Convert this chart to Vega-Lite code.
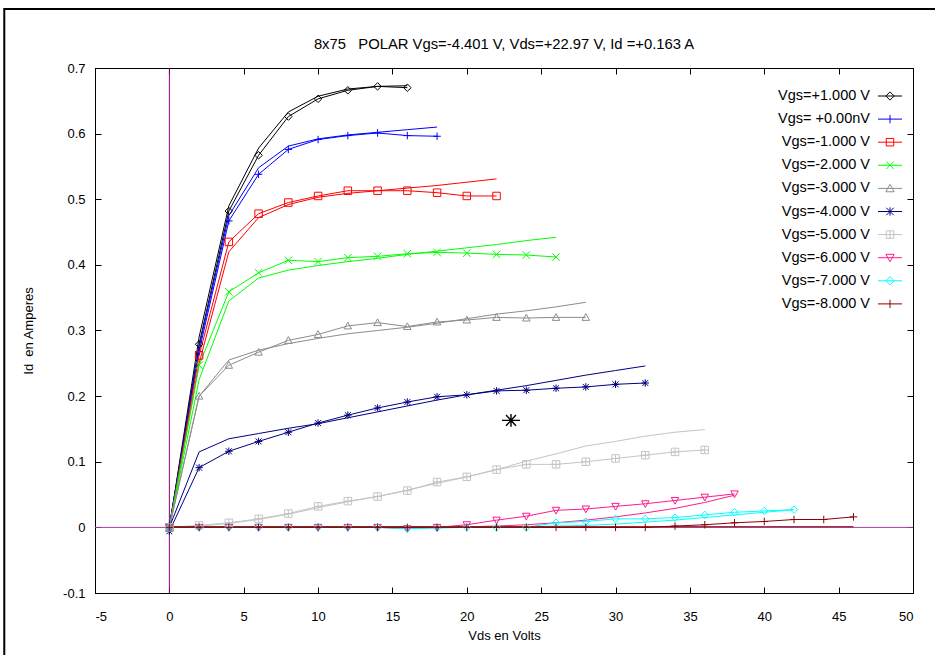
{
"$schema": "https://vega.github.io/schema/vega-lite/v6.json",
"width": 818, "height": 525,
"autosize": {"type": "none"},
"padding": {"left": 95, "top": 68, "right": 22, "bottom": 62},
"background": "white",
"title": {"text": "8x75\u00a0\u00a0 POLAR Vgs=-4.401 V, Vds=+22.97 V, Id =+0.163 A", "fontSize": 14.8, "fontWeight": "normal", "font": "Liberation Sans", "color": "black", "offset": 19, "dy": 63, "anchor": "middle"},
"datasets": {
"iv": [
{"s":"Vgs=+1.000 V","k":"m","x":0,"y":0},{"s":"Vgs=+1.000 V","k":"m","x":2,"y":0.279},{"s":"Vgs=+1.000 V","k":"m","x":4,"y":0.482},{"s":"Vgs=+1.000 V","k":"m","x":6,"y":0.567},{"s":"Vgs=+1.000 V","k":"m","x":8,"y":0.626},{"s":"Vgs=+1.000 V","k":"m","x":10,"y":0.653},{"s":"Vgs=+1.000 V","k":"m","x":12,"y":0.666},{"s":"Vgs=+1.000 V","k":"m","x":14,"y":0.672},{"s":"Vgs=+1.000 V","k":"m","x":16,"y":0.670},
{"s":"Vgs=+1.000 V","k":"f","x":0,"y":0},{"s":"Vgs=+1.000 V","k":"f","x":2,"y":0.29},{"s":"Vgs=+1.000 V","k":"f","x":4,"y":0.49},{"s":"Vgs=+1.000 V","k":"f","x":6,"y":0.578},{"s":"Vgs=+1.000 V","k":"f","x":8,"y":0.633},{"s":"Vgs=+1.000 V","k":"f","x":10,"y":0.657},{"s":"Vgs=+1.000 V","k":"f","x":12,"y":0.668},{"s":"Vgs=+1.000 V","k":"f","x":14,"y":0.672},{"s":"Vgs=+1.000 V","k":"f","x":16,"y":0.673},
{"s":"Vgs= +0.00nV","k":"m","x":0,"y":0.003},{"s":"Vgs= +0.00nV","k":"m","x":2,"y":0.268},{"s":"Vgs= +0.00nV","k":"m","x":4,"y":0.467},{"s":"Vgs= +0.00nV","k":"m","x":6,"y":0.538},{"s":"Vgs= +0.00nV","k":"m","x":8,"y":0.576},{"s":"Vgs= +0.00nV","k":"m","x":10,"y":0.591},{"s":"Vgs= +0.00nV","k":"m","x":12,"y":0.597},{"s":"Vgs= +0.00nV","k":"m","x":14,"y":0.601},{"s":"Vgs= +0.00nV","k":"m","x":16,"y":0.597},{"s":"Vgs= +0.00nV","k":"m","x":18,"y":0.596},
{"s":"Vgs= +0.00nV","k":"f","x":0,"y":0},{"s":"Vgs= +0.00nV","k":"f","x":2,"y":0.275},{"s":"Vgs= +0.00nV","k":"f","x":4,"y":0.475},{"s":"Vgs= +0.00nV","k":"f","x":6,"y":0.548},{"s":"Vgs= +0.00nV","k":"f","x":8,"y":0.581},{"s":"Vgs= +0.00nV","k":"f","x":10,"y":0.592},{"s":"Vgs= +0.00nV","k":"f","x":12,"y":0.598},{"s":"Vgs= +0.00nV","k":"f","x":14,"y":0.602},{"s":"Vgs= +0.00nV","k":"f","x":16,"y":0.606},{"s":"Vgs= +0.00nV","k":"f","x":18,"y":0.610},
{"s":"Vgs=-1.000 V","k":"m","x":0,"y":0},{"s":"Vgs=-1.000 V","k":"m","x":2,"y":0.262},{"s":"Vgs=-1.000 V","k":"m","x":4,"y":0.435},{"s":"Vgs=-1.000 V","k":"m","x":6,"y":0.478},{"s":"Vgs=-1.000 V","k":"m","x":8,"y":0.495},{"s":"Vgs=-1.000 V","k":"m","x":10,"y":0.505},{"s":"Vgs=-1.000 V","k":"m","x":12,"y":0.513},{"s":"Vgs=-1.000 V","k":"m","x":14,"y":0.513},{"s":"Vgs=-1.000 V","k":"m","x":16,"y":0.513},{"s":"Vgs=-1.000 V","k":"m","x":18,"y":0.510},{"s":"Vgs=-1.000 V","k":"m","x":20,"y":0.505},{"s":"Vgs=-1.000 V","k":"m","x":22,"y":0.505},
{"s":"Vgs=-1.000 V","k":"f","x":0,"y":0},{"s":"Vgs=-1.000 V","k":"f","x":2,"y":0.25},{"s":"Vgs=-1.000 V","k":"f","x":4,"y":0.42},{"s":"Vgs=-1.000 V","k":"f","x":6,"y":0.472},{"s":"Vgs=-1.000 V","k":"f","x":8,"y":0.492},{"s":"Vgs=-1.000 V","k":"f","x":10,"y":0.503},{"s":"Vgs=-1.000 V","k":"f","x":12,"y":0.509},{"s":"Vgs=-1.000 V","k":"f","x":14,"y":0.513},{"s":"Vgs=-1.000 V","k":"f","x":16,"y":0.517},{"s":"Vgs=-1.000 V","k":"f","x":18,"y":0.521},{"s":"Vgs=-1.000 V","k":"f","x":20,"y":0.526},{"s":"Vgs=-1.000 V","k":"f","x":22,"y":0.531},
{"s":"Vgs=-2.000 V","k":"m","x":0,"y":0},{"s":"Vgs=-2.000 V","k":"m","x":2,"y":0.247},{"s":"Vgs=-2.000 V","k":"m","x":4,"y":0.359},{"s":"Vgs=-2.000 V","k":"m","x":6,"y":0.388},{"s":"Vgs=-2.000 V","k":"m","x":8,"y":0.407},{"s":"Vgs=-2.000 V","k":"m","x":10,"y":0.405},{"s":"Vgs=-2.000 V","k":"m","x":12,"y":0.411},{"s":"Vgs=-2.000 V","k":"m","x":14,"y":0.413},{"s":"Vgs=-2.000 V","k":"m","x":16,"y":0.417},{"s":"Vgs=-2.000 V","k":"m","x":18,"y":0.419},{"s":"Vgs=-2.000 V","k":"m","x":20,"y":0.418},{"s":"Vgs=-2.000 V","k":"m","x":22,"y":0.416},{"s":"Vgs=-2.000 V","k":"m","x":24,"y":0.415},{"s":"Vgs=-2.000 V","k":"m","x":26,"y":0.412},
{"s":"Vgs=-2.000 V","k":"f","x":0,"y":0},{"s":"Vgs=-2.000 V","k":"f","x":2,"y":0.225},{"s":"Vgs=-2.000 V","k":"f","x":4,"y":0.345},{"s":"Vgs=-2.000 V","k":"f","x":6,"y":0.38},{"s":"Vgs=-2.000 V","k":"f","x":8,"y":0.392},{"s":"Vgs=-2.000 V","k":"f","x":10,"y":0.399},{"s":"Vgs=-2.000 V","k":"f","x":12,"y":0.405},{"s":"Vgs=-2.000 V","k":"f","x":14,"y":0.41},{"s":"Vgs=-2.000 V","k":"f","x":16,"y":0.416},{"s":"Vgs=-2.000 V","k":"f","x":18,"y":0.421},{"s":"Vgs=-2.000 V","k":"f","x":20,"y":0.426},{"s":"Vgs=-2.000 V","k":"f","x":22,"y":0.431},{"s":"Vgs=-2.000 V","k":"f","x":24,"y":0.437},{"s":"Vgs=-2.000 V","k":"f","x":26,"y":0.442},
{"s":"Vgs=-3.000 V","k":"m","x":0,"y":0},{"s":"Vgs=-3.000 V","k":"m","x":2,"y":0.200},{"s":"Vgs=-3.000 V","k":"m","x":4,"y":0.247},{"s":"Vgs=-3.000 V","k":"m","x":6,"y":0.267},{"s":"Vgs=-3.000 V","k":"m","x":8,"y":0.285},{"s":"Vgs=-3.000 V","k":"m","x":10,"y":0.294},{"s":"Vgs=-3.000 V","k":"m","x":12,"y":0.307},{"s":"Vgs=-3.000 V","k":"m","x":14,"y":0.312},{"s":"Vgs=-3.000 V","k":"m","x":16,"y":0.306},{"s":"Vgs=-3.000 V","k":"m","x":18,"y":0.313},{"s":"Vgs=-3.000 V","k":"m","x":20,"y":0.316},{"s":"Vgs=-3.000 V","k":"m","x":22,"y":0.320},{"s":"Vgs=-3.000 V","k":"m","x":24,"y":0.319},{"s":"Vgs=-3.000 V","k":"m","x":26,"y":0.320},{"s":"Vgs=-3.000 V","k":"m","x":28,"y":0.320},
{"s":"Vgs=-3.000 V","k":"f","x":0,"y":0},{"s":"Vgs=-3.000 V","k":"f","x":2,"y":0.2},{"s":"Vgs=-3.000 V","k":"f","x":4,"y":0.255},{"s":"Vgs=-3.000 V","k":"f","x":6,"y":0.27},{"s":"Vgs=-3.000 V","k":"f","x":8,"y":0.28},{"s":"Vgs=-3.000 V","k":"f","x":10,"y":0.288},{"s":"Vgs=-3.000 V","k":"f","x":12,"y":0.295},{"s":"Vgs=-3.000 V","k":"f","x":14,"y":0.300},{"s":"Vgs=-3.000 V","k":"f","x":16,"y":0.305},{"s":"Vgs=-3.000 V","k":"f","x":18,"y":0.311},{"s":"Vgs=-3.000 V","k":"f","x":20,"y":0.318},{"s":"Vgs=-3.000 V","k":"f","x":22,"y":0.325},{"s":"Vgs=-3.000 V","k":"f","x":24,"y":0.330},{"s":"Vgs=-3.000 V","k":"f","x":26,"y":0.336},{"s":"Vgs=-3.000 V","k":"f","x":28,"y":0.343},
{"s":"Vgs=-4.000 V","k":"m","x":0,"y":-0.006},{"s":"Vgs=-4.000 V","k":"m","x":2,"y":0.091},{"s":"Vgs=-4.000 V","k":"m","x":4,"y":0.116},{"s":"Vgs=-4.000 V","k":"m","x":6,"y":0.131},{"s":"Vgs=-4.000 V","k":"m","x":8,"y":0.145},{"s":"Vgs=-4.000 V","k":"m","x":10,"y":0.159},{"s":"Vgs=-4.000 V","k":"m","x":12,"y":0.171},{"s":"Vgs=-4.000 V","k":"m","x":14,"y":0.182},{"s":"Vgs=-4.000 V","k":"m","x":16,"y":0.191},{"s":"Vgs=-4.000 V","k":"m","x":18,"y":0.199},{"s":"Vgs=-4.000 V","k":"m","x":20,"y":0.202},{"s":"Vgs=-4.000 V","k":"m","x":22,"y":0.208},{"s":"Vgs=-4.000 V","k":"m","x":24,"y":0.209},{"s":"Vgs=-4.000 V","k":"m","x":26,"y":0.212},{"s":"Vgs=-4.000 V","k":"m","x":28,"y":0.214},{"s":"Vgs=-4.000 V","k":"m","x":30,"y":0.218},{"s":"Vgs=-4.000 V","k":"m","x":32,"y":0.220},
{"s":"Vgs=-4.000 V","k":"f","x":0,"y":0},{"s":"Vgs=-4.000 V","k":"f","x":2,"y":0.115},{"s":"Vgs=-4.000 V","k":"f","x":4,"y":0.135},{"s":"Vgs=-4.000 V","k":"f","x":6,"y":0.143},{"s":"Vgs=-4.000 V","k":"f","x":8,"y":0.151},{"s":"Vgs=-4.000 V","k":"f","x":10,"y":0.158},{"s":"Vgs=-4.000 V","k":"f","x":12,"y":0.167},{"s":"Vgs=-4.000 V","k":"f","x":14,"y":0.176},{"s":"Vgs=-4.000 V","k":"f","x":16,"y":0.185},{"s":"Vgs=-4.000 V","k":"f","x":18,"y":0.194},{"s":"Vgs=-4.000 V","k":"f","x":20,"y":0.202},{"s":"Vgs=-4.000 V","k":"f","x":22,"y":0.209},{"s":"Vgs=-4.000 V","k":"f","x":24,"y":0.216},{"s":"Vgs=-4.000 V","k":"f","x":26,"y":0.224},{"s":"Vgs=-4.000 V","k":"f","x":28,"y":0.232},{"s":"Vgs=-4.000 V","k":"f","x":30,"y":0.239},{"s":"Vgs=-4.000 V","k":"f","x":32,"y":0.246},
{"s":"Vgs=-5.000 V","k":"m","x":0,"y":0},{"s":"Vgs=-5.000 V","k":"m","x":2,"y":0.003},{"s":"Vgs=-5.000 V","k":"m","x":4,"y":0.007},{"s":"Vgs=-5.000 V","k":"m","x":6,"y":0.013},{"s":"Vgs=-5.000 V","k":"m","x":8,"y":0.021},{"s":"Vgs=-5.000 V","k":"m","x":10,"y":0.032},{"s":"Vgs=-5.000 V","k":"m","x":12,"y":0.040},{"s":"Vgs=-5.000 V","k":"m","x":14,"y":0.047},{"s":"Vgs=-5.000 V","k":"m","x":16,"y":0.056},{"s":"Vgs=-5.000 V","k":"m","x":18,"y":0.069},{"s":"Vgs=-5.000 V","k":"m","x":20,"y":0.077},{"s":"Vgs=-5.000 V","k":"m","x":22,"y":0.088},{"s":"Vgs=-5.000 V","k":"m","x":24,"y":0.096},{"s":"Vgs=-5.000 V","k":"m","x":26,"y":0.096},{"s":"Vgs=-5.000 V","k":"m","x":28,"y":0.100},{"s":"Vgs=-5.000 V","k":"m","x":30,"y":0.105},{"s":"Vgs=-5.000 V","k":"m","x":32,"y":0.110},{"s":"Vgs=-5.000 V","k":"m","x":34,"y":0.115},{"s":"Vgs=-5.000 V","k":"m","x":36,"y":0.118},
{"s":"Vgs=-5.000 V","k":"f","x":0,"y":0},{"s":"Vgs=-5.000 V","k":"f","x":2,"y":0.002},{"s":"Vgs=-5.000 V","k":"f","x":4,"y":0.006},{"s":"Vgs=-5.000 V","k":"f","x":6,"y":0.012},{"s":"Vgs=-5.000 V","k":"f","x":8,"y":0.02},{"s":"Vgs=-5.000 V","k":"f","x":10,"y":0.03},{"s":"Vgs=-5.000 V","k":"f","x":12,"y":0.039},{"s":"Vgs=-5.000 V","k":"f","x":14,"y":0.047},{"s":"Vgs=-5.000 V","k":"f","x":16,"y":0.057},{"s":"Vgs=-5.000 V","k":"f","x":18,"y":0.067},{"s":"Vgs=-5.000 V","k":"f","x":20,"y":0.077},{"s":"Vgs=-5.000 V","k":"f","x":22,"y":0.088},{"s":"Vgs=-5.000 V","k":"f","x":24,"y":0.101},{"s":"Vgs=-5.000 V","k":"f","x":26,"y":0.112},{"s":"Vgs=-5.000 V","k":"f","x":28,"y":0.124},{"s":"Vgs=-5.000 V","k":"f","x":30,"y":0.131},{"s":"Vgs=-5.000 V","k":"f","x":32,"y":0.139},{"s":"Vgs=-5.000 V","k":"f","x":34,"y":0.145},{"s":"Vgs=-5.000 V","k":"f","x":36,"y":0.149},
{"s":"Vgs=-6.000 V","k":"m","x":0,"y":0},{"s":"Vgs=-6.000 V","k":"m","x":2,"y":0},{"s":"Vgs=-6.000 V","k":"m","x":4,"y":0},{"s":"Vgs=-6.000 V","k":"m","x":6,"y":0},{"s":"Vgs=-6.000 V","k":"m","x":8,"y":0},{"s":"Vgs=-6.000 V","k":"m","x":10,"y":0},{"s":"Vgs=-6.000 V","k":"m","x":12,"y":0},{"s":"Vgs=-6.000 V","k":"m","x":14,"y":0},{"s":"Vgs=-6.000 V","k":"m","x":16,"y":-0.002},{"s":"Vgs=-6.000 V","k":"m","x":18,"y":0},{"s":"Vgs=-6.000 V","k":"m","x":20,"y":0.004},{"s":"Vgs=-6.000 V","k":"m","x":22,"y":0.011},{"s":"Vgs=-6.000 V","k":"m","x":24,"y":0.017},{"s":"Vgs=-6.000 V","k":"m","x":26,"y":0.026},{"s":"Vgs=-6.000 V","k":"m","x":28,"y":0.028},{"s":"Vgs=-6.000 V","k":"m","x":30,"y":0.032},{"s":"Vgs=-6.000 V","k":"m","x":32,"y":0.036},{"s":"Vgs=-6.000 V","k":"m","x":34,"y":0.041},{"s":"Vgs=-6.000 V","k":"m","x":36,"y":0.046},{"s":"Vgs=-6.000 V","k":"m","x":38,"y":0.051},
{"s":"Vgs=-6.000 V","k":"f","x":0,"y":0.001},{"s":"Vgs=-6.000 V","k":"f","x":10,"y":0.001},{"s":"Vgs=-6.000 V","k":"f","x":20,"y":0.001},{"s":"Vgs=-6.000 V","k":"f","x":22,"y":0.002},{"s":"Vgs=-6.000 V","k":"f","x":24,"y":0.004},{"s":"Vgs=-6.000 V","k":"f","x":26,"y":0.007},{"s":"Vgs=-6.000 V","k":"f","x":28,"y":0.011},{"s":"Vgs=-6.000 V","k":"f","x":30,"y":0.016},{"s":"Vgs=-6.000 V","k":"f","x":32,"y":0.022},{"s":"Vgs=-6.000 V","k":"f","x":34,"y":0.029},{"s":"Vgs=-6.000 V","k":"f","x":36,"y":0.038},{"s":"Vgs=-6.000 V","k":"f","x":38,"y":0.049},
{"s":"Vgs=-7.000 V","k":"m","x":0,"y":0},{"s":"Vgs=-7.000 V","k":"m","x":2,"y":0},{"s":"Vgs=-7.000 V","k":"m","x":4,"y":0},{"s":"Vgs=-7.000 V","k":"m","x":6,"y":0},{"s":"Vgs=-7.000 V","k":"m","x":8,"y":0},{"s":"Vgs=-7.000 V","k":"m","x":10,"y":0},{"s":"Vgs=-7.000 V","k":"m","x":12,"y":0},{"s":"Vgs=-7.000 V","k":"m","x":14,"y":0},{"s":"Vgs=-7.000 V","k":"m","x":16,"y":-0.002},{"s":"Vgs=-7.000 V","k":"m","x":18,"y":-0.001},{"s":"Vgs=-7.000 V","k":"m","x":20,"y":0},{"s":"Vgs=-7.000 V","k":"m","x":22,"y":0},{"s":"Vgs=-7.000 V","k":"m","x":24,"y":0},{"s":"Vgs=-7.000 V","k":"m","x":26,"y":0.007},{"s":"Vgs=-7.000 V","k":"m","x":28,"y":0.009},{"s":"Vgs=-7.000 V","k":"m","x":30,"y":0.013},{"s":"Vgs=-7.000 V","k":"m","x":32,"y":0.013},{"s":"Vgs=-7.000 V","k":"m","x":34,"y":0.015},{"s":"Vgs=-7.000 V","k":"m","x":36,"y":0.019},{"s":"Vgs=-7.000 V","k":"m","x":38,"y":0.023},{"s":"Vgs=-7.000 V","k":"m","x":40,"y":0.025},{"s":"Vgs=-7.000 V","k":"m","x":42,"y":0.027},
{"s":"Vgs=-7.000 V","k":"f","x":0,"y":0.001},{"s":"Vgs=-7.000 V","k":"f","x":12,"y":0.001},{"s":"Vgs=-7.000 V","k":"f","x":24,"y":0.001},{"s":"Vgs=-7.000 V","k":"f","x":26,"y":0.002},{"s":"Vgs=-7.000 V","k":"f","x":28,"y":0.003},{"s":"Vgs=-7.000 V","k":"f","x":30,"y":0.005},{"s":"Vgs=-7.000 V","k":"f","x":32,"y":0.008},{"s":"Vgs=-7.000 V","k":"f","x":34,"y":0.011},{"s":"Vgs=-7.000 V","k":"f","x":36,"y":0.015},{"s":"Vgs=-7.000 V","k":"f","x":38,"y":0.019},{"s":"Vgs=-7.000 V","k":"f","x":40,"y":0.023},{"s":"Vgs=-7.000 V","k":"f","x":42,"y":0.027},
{"s":"Vgs=-8.000 V","k":"m","x":0,"y":0},{"s":"Vgs=-8.000 V","k":"m","x":2,"y":0},{"s":"Vgs=-8.000 V","k":"m","x":4,"y":0},{"s":"Vgs=-8.000 V","k":"m","x":6,"y":0},{"s":"Vgs=-8.000 V","k":"m","x":8,"y":0},{"s":"Vgs=-8.000 V","k":"m","x":10,"y":0},{"s":"Vgs=-8.000 V","k":"m","x":12,"y":0},{"s":"Vgs=-8.000 V","k":"m","x":14,"y":0},{"s":"Vgs=-8.000 V","k":"m","x":16,"y":0},{"s":"Vgs=-8.000 V","k":"m","x":18,"y":0},{"s":"Vgs=-8.000 V","k":"m","x":20,"y":0},{"s":"Vgs=-8.000 V","k":"m","x":22,"y":0},{"s":"Vgs=-8.000 V","k":"m","x":24,"y":0},{"s":"Vgs=-8.000 V","k":"m","x":26,"y":0},{"s":"Vgs=-8.000 V","k":"m","x":28,"y":0},{"s":"Vgs=-8.000 V","k":"m","x":30,"y":0},{"s":"Vgs=-8.000 V","k":"m","x":32,"y":0},{"s":"Vgs=-8.000 V","k":"m","x":34,"y":0.002},{"s":"Vgs=-8.000 V","k":"m","x":36,"y":0.004},{"s":"Vgs=-8.000 V","k":"m","x":38,"y":0.007},{"s":"Vgs=-8.000 V","k":"m","x":40,"y":0.009},{"s":"Vgs=-8.000 V","k":"m","x":42,"y":0.012},{"s":"Vgs=-8.000 V","k":"m","x":44,"y":0.012},{"s":"Vgs=-8.000 V","k":"m","x":46,"y":0.016},
{"s":"Vgs=-8.000 V","k":"f","x":0,"y":0.001},{"s":"Vgs=-8.000 V","k":"f","x":20,"y":0.001},{"s":"Vgs=-8.000 V","k":"f","x":40,"y":0.001},{"s":"Vgs=-8.000 V","k":"f","x":46,"y":0.001}
],
"op": [{"x": 22.97, "y": 0.163}],
"one": [{"n": 1}]
},
"config": {
"font": "Liberation Sans",
"view": {"stroke": "black", "strokeWidth": 1},
"axis": {"grid": false, "domainColor": "black", "domainWidth": 1, "tickColor": "black", "tickSize": -6, "tickWidth": 1, "labelColor": "black", "titleColor": "black", "labelFontSize": 13, "titleFontSize": 13, "titleFontWeight": "normal", "labelFont": "Liberation Sans", "titleFont": "Liberation Sans"}
},
"resolve": {"axis": {"x": "independent", "y": "independent"}},
"layer": [
{
"data": {"name": "one"},
"mark": {"type": "rect", "fill": null, "fillOpacity": 0, "stroke": "black", "strokeWidth": 2, "clip": false},
"encoding": {
"x": {"datum": -11.1, "type": "quantitative", "axis": null},
"x2": {"datum": 70},
"y": {"datum": 0.79, "type": "quantitative", "axis": null},
"y2": {"datum": -0.5}
}
},
{
"data": {"name": "one"},
"mark": {"type": "rule", "color": "#8b008b", "strokeWidth": 1},
"encoding": {
"x": {"datum": 0, "type": "quantitative", "axis": {"orient": "top", "values": [-5,0,5,10,15,20,25,30,35,40,45,50], "labels": false, "title": null, "domain": true}}
}
},
{
"data": {"name": "one"},
"mark": {"type": "rule", "color": "#a040a0", "strokeWidth": 1},
"encoding": {
"y": {"datum": 0, "type": "quantitative", "axis": {"orient": "right", "values": [-0.1,0,0.1,0.2,0.3,0.4,0.5,0.6,0.7], "labels": false, "title": null, "domain": true}}
}
},
{
"data": {"name": "iv"},
"mark": {"type": "line", "strokeWidth": 1, "clip": true},
"encoding": {
"x": {"field": "x", "type": "quantitative", "scale": {"domain": [-5, 50], "nice": false, "zero": false},
 "axis": {"orient": "bottom", "values": [-5,0,5,10,15,20,25,30,35,40,45,50], "title": "Vds en Volts", "labelPadding": 23, "titlePadding": 6, "labelExpr": "'' + datum.value"}},
"y": {"field": "y", "type": "quantitative", "scale": {"domain": [-0.1, 0.7], "nice": false, "zero": false},
 "axis": {"orient": "left", "values": [-0.1,0,0.1,0.2,0.3,0.4,0.5,0.6,0.7], "title": "Id\u00a0 en Amperes", "labelPadding": 16, "titlePadding": 27, "labelExpr": "'' + (round(datum.value*10)/10)"}},
"color": {"field": "s", "type": "nominal",
 "scale": {"domain": ["Vgs=+1.000 V","Vgs= +0.00nV","Vgs=-1.000 V","Vgs=-2.000 V","Vgs=-3.000 V","Vgs=-4.000 V","Vgs=-5.000 V","Vgs=-6.000 V","Vgs=-7.000 V","Vgs=-8.000 V"],
  "range": ["#000000","#0000ff","#ff0000","#00ff00","#8c8c8c","#000080","#c4c4c4","#ff1a8c","#00ffff","#8b0000"]},
 "legend": {"title": null, "orient": "none", "legendX": 787, "legendY": 20, "labelAlign": "right", "labelOffset": -28, "labelFontSize": 14.5, "labelFont": "Liberation Sans", "labelColor": "black", "labelLimit": 300, "symbolSize": 225, "rowPadding": 8.1, "symbolStrokeWidth": 1,
  "encode": {"symbols": {"update": {"fill": {"value": "transparent"}, "strokeWidth": {"value": 1},
   "shape": {"signal": "['M-1.6,0H1.6M0,-0.55L0.55,0L0,0.55L-0.55,0Z','M-1.6,0H1.6M0,-0.55V0.55','M-1.6,0H1.6M-0.5,-0.5H0.5V0.5H-0.5Z','M-1.6,0H1.6M-0.5,-0.5L0.5,0.5M-0.5,0.5L0.5,-0.5','M-1.6,0H1.6M0,-0.55L0.55,0.45H-0.55Z','M-1.6,0H1.6M0,-0.55V0.55M-0.5,-0.5L0.5,0.5M-0.5,0.5L0.5,-0.5','M-1.6,0H1.6M-0.5,-0.5H0.5V0.5H-0.5ZM0,-0.5V0.5','M-1.6,0H1.6M-0.55,-0.45H0.55L0,0.55Z','M-1.6,0H1.6M0,-0.55L0.55,0L0,0.55L-0.55,0Z','M-1.6,0H1.6M0,-0.55V0.55'][indexof(['Vgs=+1.000 V','Vgs= +0.00nV','Vgs=-1.000 V','Vgs=-2.000 V','Vgs=-3.000 V','Vgs=-4.000 V','Vgs=-5.000 V','Vgs=-6.000 V','Vgs=-7.000 V','Vgs=-8.000 V'], datum.value)]"}}}}}},
"detail": {"field": "k", "type": "nominal"}
}
},
{
"data": {"name": "iv"},
"transform": [{"filter": "datum.k == 'm'"}],
"mark": {"type": "point", "filled": false, "strokeWidth": 1, "size": 56, "opacity": 1, "clip": true},
"encoding": {
"x": {"field": "x", "type": "quantitative", "axis": null},
"y": {"field": "y", "type": "quantitative", "axis": null},
"color": {"field": "s", "type": "nominal", "legend": null},
"shape": {"condition": [
  {"test": "datum.s == 'Vgs=+1.000 V'", "value": "M0,-1L1,0L0,1L-1,0Z"},
  {"test": "datum.s == 'Vgs= +0.00nV'", "value": "M-1,0H1M0,-1V1"},
  {"test": "datum.s == 'Vgs=-1.000 V'", "value": "M-1,-1H1V1H-1Z"},
  {"test": "datum.s == 'Vgs=-2.000 V'", "value": "M-1,-1L1,1M-1,1L1,-1"},
  {"test": "datum.s == 'Vgs=-3.000 V'", "value": "M0,-1L1,0.8H-1Z"},
  {"test": "datum.s == 'Vgs=-4.000 V'", "value": "M-1,0H1M0,-1V1M-0.8,-0.8L0.8,0.8M-0.8,0.8L0.8,-0.8"},
  {"test": "datum.s == 'Vgs=-5.000 V'", "value": "M-1,-1H1V1H-1ZM0,-1V1M-1,0H1"},
  {"test": "datum.s == 'Vgs=-6.000 V'", "value": "M-1,-0.8H1L0,1Z"},
  {"test": "datum.s == 'Vgs=-7.000 V'", "value": "M0,-1L1,0L0,1L-1,0Z"}
 ], "value": "M-1,0H1M0,-1V1"}
}
},
{
"data": {"name": "op"},
"mark": {"type": "point", "filled": false, "stroke": "black", "strokeWidth": 1.4, "size": 324, "opacity": 1, "shape": "M-1,0H1M0,-0.7V0.7M-0.55,-0.6L0.55,0.6M-0.55,0.6L0.55,-0.6"},
"encoding": {
"x": {"field": "x", "type": "quantitative", "axis": null},
"y": {"field": "y", "type": "quantitative", "axis": null}
}
}
]
}
